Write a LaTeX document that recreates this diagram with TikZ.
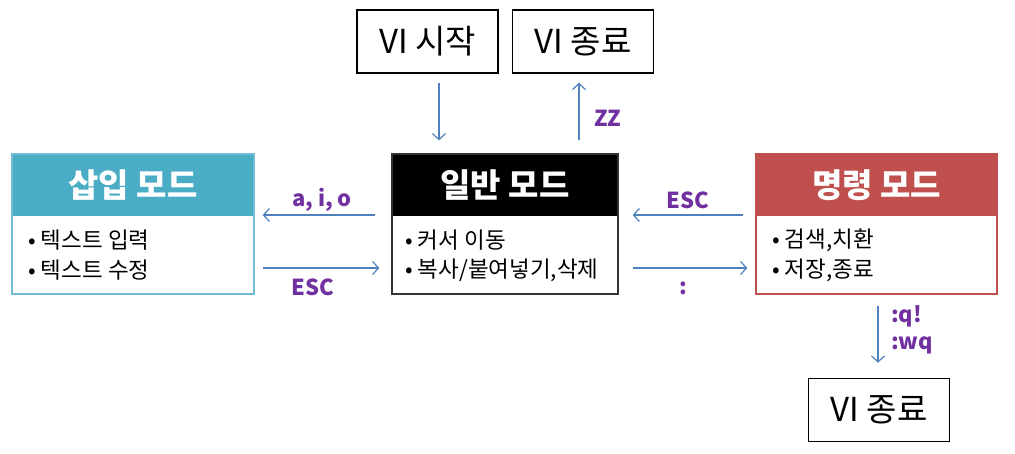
\documentclass[tikz,border=0pt]{standalone}
\usepackage{fontspec}
\setmainfont{Noto Sans CJK KR}
\usetikzlibrary{arrows.meta,calc}
\definecolor{teal}{HTML}{4BACC6}
\definecolor{tealb}{HTML}{6FBCD6}
\definecolor{redh}{HTML}{C0504D}
\definecolor{arrblue}{HTML}{4F81BD}
\definecolor{lblpurple}{HTML}{7030A0}
\begin{document}
\begin{tikzpicture}[x=1pt,y=-1pt,
  modebox/.style={draw,line width=1.2pt,minimum width=242pt,minimum height=140pt,inner sep=0pt},
  header/.style={minimum width=242pt,minimum height=62pt,inner sep=0pt,text=white,font=\fontsize{33}{36}\selectfont\bfseries},
  bodytxt/.style={anchor=west,inner sep=0pt,font=\fontsize{22.5}{26}\selectfont},
  vibox/.style={draw,line width=1.5pt,minimum width=141pt,minimum height=63pt,inner sep=0pt,font=\fontsize{33}{36}\selectfont},
  arr/.style={draw=arrblue,line width=1.2pt,-{Straight Barb[length=6pt,width=13pt]}},
  lbl/.style={text=lblpurple,font=\fontsize{22}{24}\selectfont\bfseries,inner sep=0pt}]
\useasboundingbox (0,0) rectangle (1015,453);
% Insert mode
\node[header,fill=teal] (inserth) at (133,185) {삽입 모드};
\node[modebox,draw=tealb] (insert) at (133,224) {};
\node[bodytxt] (insertb1) at (28,240) {• 텍스트 입력};
\node[bodytxt] (insertb2) at (28,270) {• 텍스트 수정};
% Normal mode
\node[header,fill=black,minimum width=226pt] (normalh) at (505,185) {일반 모드};
\node[modebox,minimum width=226pt,draw=black!80] (normal) at (505,224) {};
\node[bodytxt] (normalb1) at (405,240) {• 커서 이동};
\node[bodytxt] (normalb2) at (405,270) {• 복사/붙여넣기,삭제};
% Command mode
\node[header,fill=redh,minimum width=241pt] (cmdh) at (876.5,185) {명령 모드};
\node[modebox,minimum width=241pt,draw=redh] (cmd) at (876.5,224) {};
\node[bodytxt] (cmdb1) at (772,240) {• 검색,치환};
\node[bodytxt] (cmdb2) at (772,270) {• 저장,종료};
% VI boxes
\node[vibox] (start) at (427.5,41.5) {VI 시작};
\node[vibox] (quit1) at (583,41.5) {VI 종료};
\node[vibox] (quit2) at (879,410) {VI 종료};
% arrows
\draw[arr] ([xshift=11.5pt,yshift=-9pt]start.south) -- ([xshift=-66pt,yshift=13pt]normal.north);
\draw[arr] ([xshift=74pt,yshift=13pt]normal.north) -- ([xshift=-4pt,yshift=-9pt]quit1.south);
\node[lbl,anchor=west] (zz) at (594,118) {ZZ};
\draw[arr] ([xshift=-16pt,yshift=9pt]normal.west) -- ([xshift=8pt,yshift=9pt]insert.east);
\node[lbl] (aio) at (322,200) {a, i, o};
\draw[arr] ([xshift=8pt,yshift=-44pt]insert.east) -- ([xshift=-12pt,yshift=-44pt]normal.west);
\node[lbl] (esc1) at (313,287) {ESC};
\draw[arr] ([xshift=-12pt,yshift=9pt]cmd.west) -- ([xshift=14pt,yshift=9pt]normal.east);
\node[lbl] (esc2) at (688,200) {ESC};
\draw[arr] ([xshift=14pt,yshift=-44pt]normal.east) -- ([xshift=-8pt,yshift=-44pt]cmd.west);
\node[lbl] (colon) at (683,288) {:};
\draw[arr] ([xshift=1.5pt,yshift=-11pt]cmd.south) -- ([xshift=-1pt,yshift=15pt]quit2.north);
\node[lbl,anchor=west] (q1) at (891,316) {:q!};
\node[lbl,anchor=west] (q2) at (891,345) {:wq};
\end{tikzpicture}
\end{document}
